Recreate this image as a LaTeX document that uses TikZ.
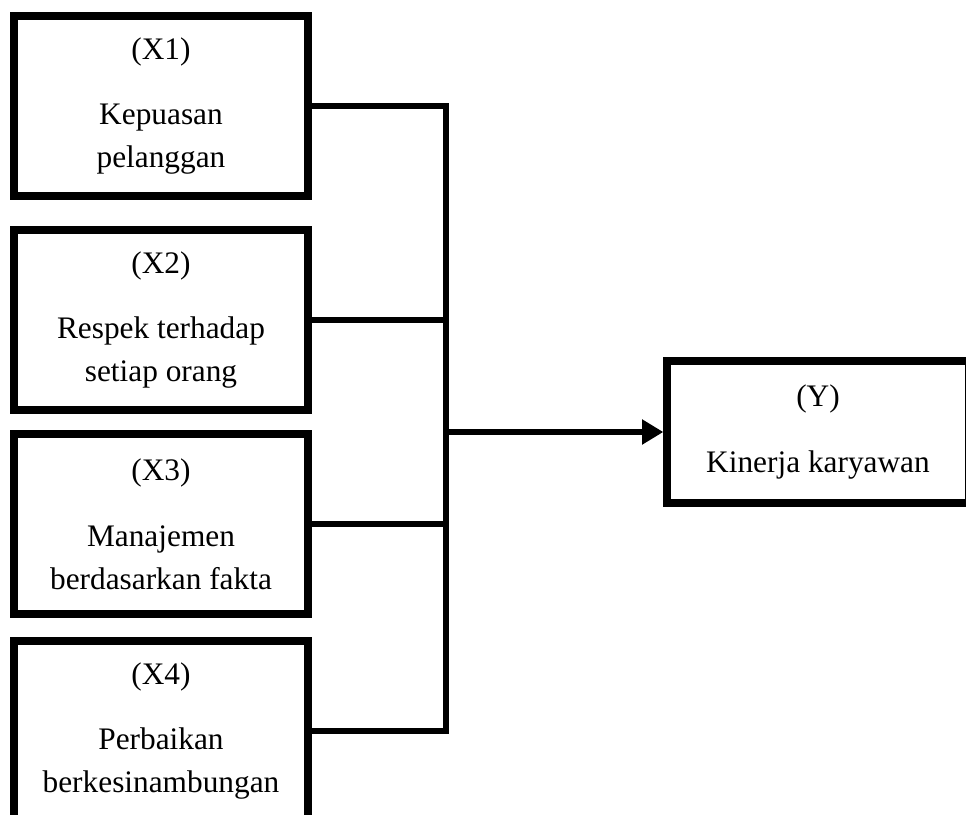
\documentclass[tikz,border=0pt]{standalone}
\usepackage{fontspec}
\setmainfont{Liberation Serif}
\usetikzlibrary{arrows.meta}

\begin{document}
\begin{tikzpicture}[x=0.75pt,y=-0.75pt,
  box/.style={draw, line width=6pt, align=center, minimum width=220pt, minimum height=135pt,
    inner sep=0pt, font=\fontsize{23.5pt}{32.25pt}\selectfont},
  link/.style={line width=5pt},
  arr/.style={line width=5pt, -{Triangle[length=16pt,width=18pt]}}]
\useasboundingbox (0,0) rectangle (966,814);
\clip (0,0) rectangle (966,814);
\node[box] (x1) at (161,106) {(X1)\\[17pt]Kepuasan\\pelanggan};
\node[box] (x2) at (161,320) {(X2)\\[17pt]Respek terhadap\\setiap orang};
\node[box] (x3) at (161,524) {(X3)\\[17pt]Manajemen\\berdasarkan fakta};
\node[box] (x4) at (161,731) {(X4)\\[17pt]Perbaikan\\berkesinambungan};
\node[box, minimum width=226pt, minimum height=107pt] (y) at (818,432) {(Y)\\[17pt]Kinerja karyawan};
\coordinate (bus) at (446,432);
\draw[link] (x1.east) -- (x1.east -| bus) -- (x4.east -| bus) -- (x4.east);
\draw[link] (x2.east) -- (x2.east -| bus);
\draw[link] (x3.east) -- (x3.east -| bus);
\draw[arr] (bus) -- (y.west);
\end{tikzpicture}
\end{document}
